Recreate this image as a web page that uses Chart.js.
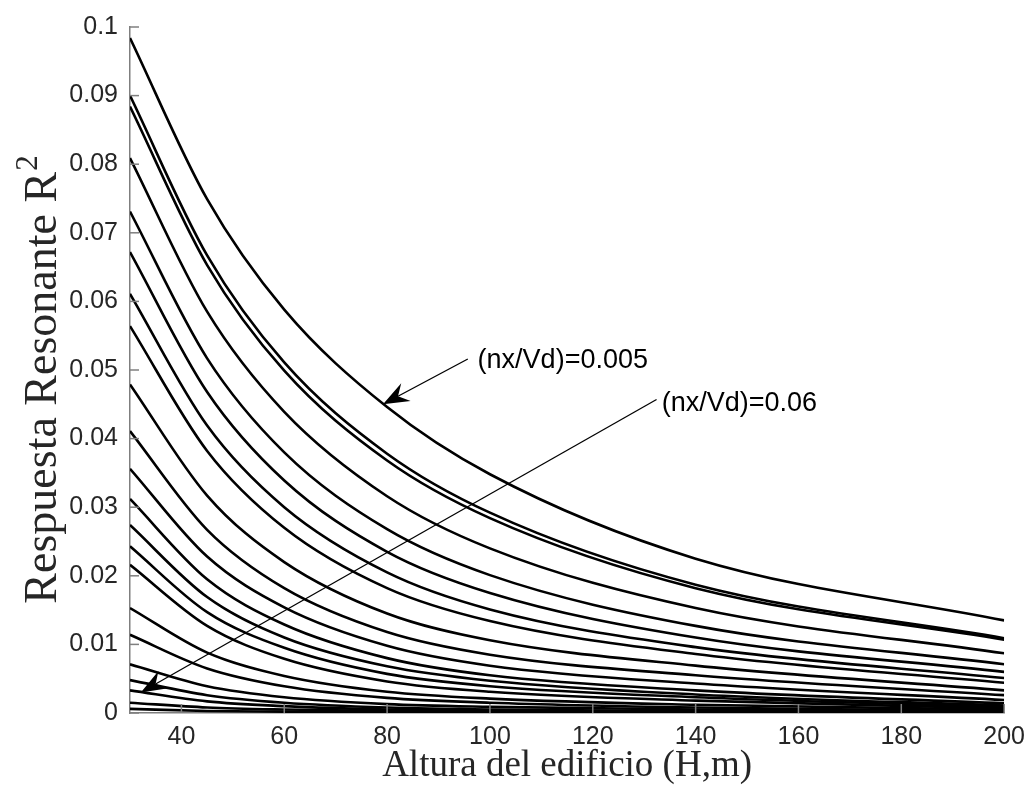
<!DOCTYPE html>
<html>
<head>
<meta charset="utf-8">
<script src="https://cdn.jsdelivr.net/npm/chart.js@4.4.0/dist/chart.umd.min.js"></script>
<style>
  html, body { margin: 0; background: #fff; }
</style>
</head>
<body>
<canvas id="chart" width="1034" height="803"></canvas>
<script>
// building height (H, m) where each curve was read
const heights = [30, 45, 60, 80, 100, 140, 200];

// resonant response R^2, one array per nx/Vd value (top curve = 0.005)
const curve01 = [0.0984, 0.0749, 0.0588, 0.0446, 0.0348, 0.0225, 0.0135];
const curve02 = [0.0900, 0.0667, 0.0511, 0.0378, 0.0292, 0.0187, 0.0109];
const curve03 = [0.0884, 0.0653, 0.0499, 0.0368, 0.0284, 0.0182, 0.0107];
const curve04 = [0.0809, 0.0585, 0.0439, 0.0316, 0.0240, 0.0153, 0.0087];
const curve05 = [0.0731, 0.0517, 0.0380, 0.0268, 0.0201, 0.0127, 0.0071];
const curve06 = [0.0672, 0.0468, 0.0339, 0.0235, 0.0175, 0.0110, 0.0060];
const curve07 = [0.0611, 0.0419, 0.0300, 0.0205, 0.0151, 0.0096, 0.0051];
const curve08 = [0.0564, 0.0382, 0.0270, 0.0182, 0.0134, 0.0086, 0.0044];
const curve09 = [0.0479, 0.0317, 0.0220, 0.0145, 0.0106, 0.0069, 0.0033];
const curve10 = [0.0411, 0.0267, 0.0182, 0.0118, 0.0085, 0.0055, 0.0026];
const curve11 = [0.0356, 0.0228, 0.0154, 0.0098, 0.0069, 0.0043, 0.0019];
const curve12 = [0.0312, 0.0195, 0.0129, 0.0080, 0.0055, 0.0033, 0.0014];
const curve13 = [0.0274, 0.0169, 0.0110, 0.0068, 0.0047, 0.0027, 0.0011];
const curve14 = [0.0243, 0.0147, 0.0095, 0.0057, 0.0039, 0.0023, 0.0009];
const curve15 = [0.0216, 0.0127, 0.0079, 0.0046, 0.0031, 0.0018, 0.0007];
const curve16 = [0.0153, 0.0088, 0.0054, 0.0031, 0.0021, 0.0012, 0.0005];
const curve17 = [0.0114, 0.0065, 0.0039, 0.0022, 0.0015, 0.0008, 0.0003];
const curve18 = [0.0071, 0.0039, 0.0023, 0.0013, 0.0009, 0.0005, 0.0002];
const curve19 = [0.0048, 0.0026, 0.0015, 0.0008, 0.0005, 0.0003, 0.0001];
const curve20 = [0.0033, 0.0017, 0.0010, 0.0005, 0.0003, 0.0002, 0.0001];
const curve21 = [0.0015, 0.0008, 0.0005, 0.0003, 0.0002, 0.0001, 0.0000];
const curve22 = [0.0006, 0.0003, 0.0002, 0.0001, 0.0001, 0.0000, 0.0000];

const curves = [
  curve01, curve02, curve03, curve04, curve05, curve06, curve07, curve08,
  curve09, curve10, curve11, curve12, curve13, curve14, curve15, curve16,
  curve17, curve18, curve19, curve20, curve21, curve22,
];

const xTicks = [40, 60, 80, 100, 120, 140, 160, 180, 200];
const yTicks = [0, 0.01, 0.02, 0.03, 0.04, 0.05, 0.06, 0.07, 0.08, 0.09, 0.1];

const xTitle = 'Altura del edificio (H,m)';
const yTitle = 'Respuesta Resonante R';
const yTitleSup = '2';

// annotations in data units: [x, y]
const noteTop = { text: '(nx/Vd)=0.005', from: [95.7, 0.0516], to: [79.2, 0.0450], at: [97.6, 0.0514] };
const noteLow = { text: '(nx/Vd)=0.06', from: [132.4, 0.0457], to: [32.1, 0.0030], at: [133.4, 0.0451] };

const axisGrey = '#7f7f7f';
const labelGrey = '#262626';
const sansFont = '"Liberation Sans", Arial, sans-serif';
const serifFont = '"Liberation Serif", "Times New Roman", serif';

const datasets = curves.map((values) => ({
  data: heights.map((h, i) => ({ x: h, y: values[i] })),
  borderColor: '#000',
  borderWidth: 2.6,
  pointRadius: 0,
  fill: false,
  cubicInterpolationMode: 'monotone',
}));

const drawArrow = (ctx, x1, y1, x2, y2) => {
  const angle = Math.atan2(y2 - y1, x2 - x1);
  const len = 26;
  const half = 10;
  const notch = 17;
  ctx.beginPath();
  ctx.moveTo(x1, y1);
  ctx.lineTo(x2 - Math.cos(angle) * notch, y2 - Math.sin(angle) * notch);
  ctx.stroke();

  ctx.save();
  ctx.translate(x2, y2);
  ctx.rotate(angle);
  ctx.beginPath();
  ctx.moveTo(0, 0);
  ctx.lineTo(-len, -half);
  ctx.lineTo(-notch, 0);
  ctx.lineTo(-len, half);
  ctx.closePath();
  ctx.fill();
  ctx.restore();
};

const decorations = {
  id: 'decorations',
  afterDraw(chart) {
    const { ctx, chartArea } = chart;
    const xScale = chart.scales.x;
    const yScale = chart.scales.y;

    // inward tick marks (MATLAB look)
    ctx.save();
    ctx.strokeStyle = axisGrey;
    ctx.lineWidth = 1.5;
    xTicks.forEach((v) => {
      const px = xScale.getPixelForValue(v);
      ctx.beginPath();
      ctx.moveTo(px, chartArea.bottom);
      ctx.lineTo(px, chartArea.bottom - 9);
      ctx.stroke();
    });
    yTicks.forEach((v) => {
      const py = yScale.getPixelForValue(v);
      ctx.beginPath();
      ctx.moveTo(chartArea.left, py);
      ctx.lineTo(chartArea.left + 9, py);
      ctx.stroke();
    });
    ctx.restore();

    // arrows and their labels
    ctx.save();
    ctx.strokeStyle = '#000';
    ctx.fillStyle = '#000';
    ctx.lineWidth = 1.3;
    [noteTop, noteLow].forEach((note) => {
      drawArrow(
        ctx,
        xScale.getPixelForValue(note.from[0]),
        yScale.getPixelForValue(note.from[1]),
        xScale.getPixelForValue(note.to[0]),
        yScale.getPixelForValue(note.to[1])
      );
      ctx.font = `27px ${sansFont}`;
      ctx.textBaseline = 'middle';
      ctx.textAlign = 'left';
      ctx.fillText(note.text, xScale.getPixelForValue(note.at[0]), yScale.getPixelForValue(note.at[1]));
    });
    ctx.restore();

    // axis titles
    ctx.save();
    ctx.fillStyle = labelGrey;
    ctx.font = `37px ${serifFont}`;
    ctx.textAlign = 'center';
    ctx.textBaseline = 'alphabetic';
    ctx.fillText(xTitle, (chartArea.left + chartArea.right) / 2, 776);

    ctx.font = `46px ${serifFont}`;
    const mainW = ctx.measureText(yTitle).width;
    ctx.font = `31px ${serifFont}`;
    const supW = ctx.measureText(yTitleSup).width;
    const total = mainW + supW;
    ctx.translate(56, 380);
    ctx.rotate(-Math.PI / 2);
    ctx.textAlign = 'left';
    ctx.font = `46px ${serifFont}`;
    ctx.fillText(yTitle, -total / 2, 0);
    ctx.font = `31px ${serifFont}`;
    ctx.fillText(yTitleSup, -total / 2 + mainW + 1, -19);
    ctx.restore();
  },
};

new Chart(document.getElementById('chart'), {
  type: 'line',
  data: { datasets },
  options: {
    responsive: false,
    animation: false,
    layout: { padding: { top: 19, right: 29, left: 0, bottom: 0 } },
    plugins: {
      legend: { display: false },
      tooltip: { enabled: false },
    },
    scales: {
      x: {
        type: 'linear',
        min: 30,
        max: 200,
        afterBuildTicks: (scale) => {
          scale.ticks = xTicks.map((value) => ({ value }));
        },
        afterFit: (scale) => {
          scale.height = 90;
        },
        grid: { display: true, drawOnChartArea: false, drawTicks: false },
        border: { display: true, color: axisGrey, width: 1.5 },
        ticks: {
          padding: 9,
          color: labelGrey,
          font: { family: sansFont, size: 25 },
          maxRotation: 0,
        },
      },
      y: {
        type: 'linear',
        min: 0,
        max: 0.1,
        afterBuildTicks: (scale) => {
          scale.ticks = yTicks.map((value) => ({ value }));
        },
        afterFit: (scale) => {
          scale.width = 130;
        },
        grid: { display: true, drawOnChartArea: false, drawTicks: false },
        border: { display: true, color: axisGrey, width: 1.5 },
        ticks: {
          padding: 12,
          color: labelGrey,
          font: { family: sansFont, size: 25 },
          callback: (value) => String(Number(value.toFixed(2))),
        },
      },
    },
  },
  plugins: [decorations],
});
</script>
</body>
</html>
